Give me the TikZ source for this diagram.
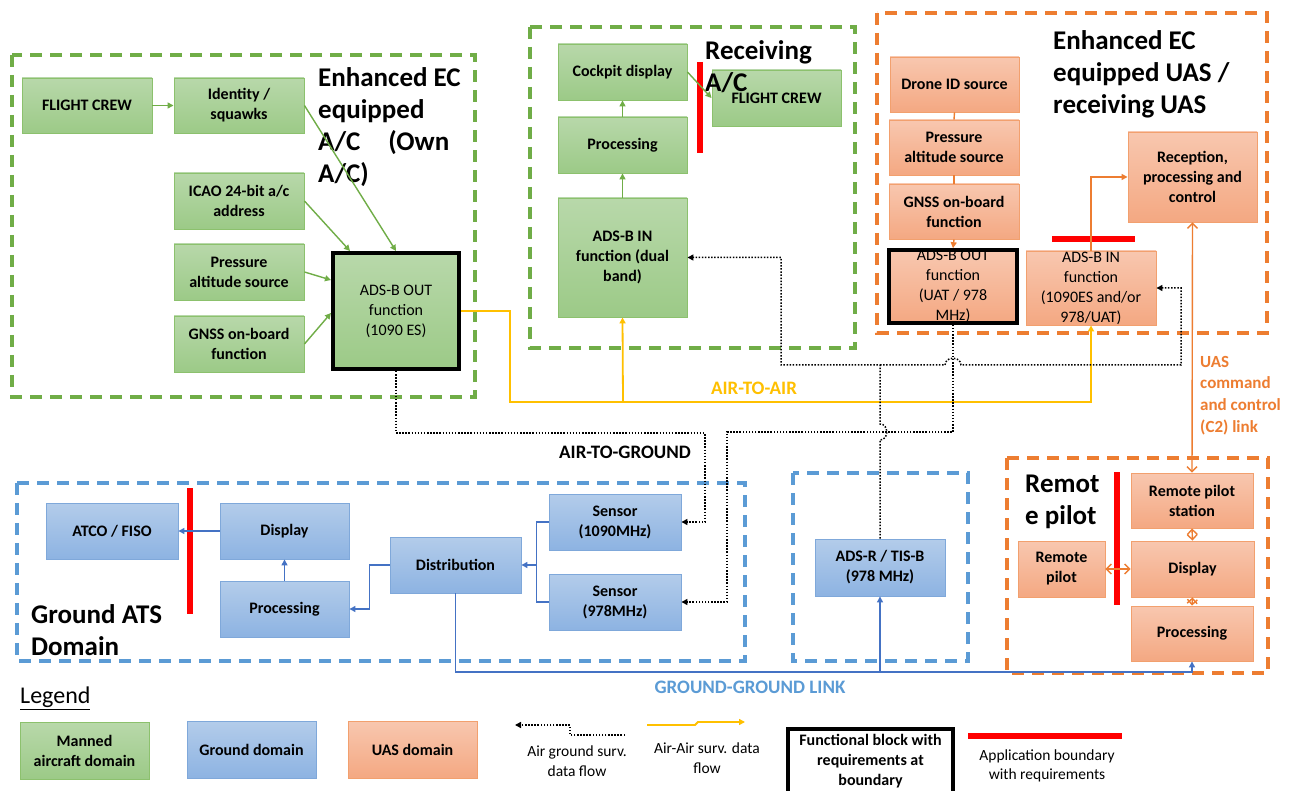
\documentclass[tikz,border=0pt]{standalone}
\usepackage{fontspec}
\setmainfont{Carlito}
\usetikzlibrary{arrows.meta}
\definecolor{gT}{HTML}{B8D8AA}
\definecolor{gB}{HTML}{9CCA87}
\definecolor{gL}{HTML}{8CC16D}
\definecolor{gD}{HTML}{70AD47}
\definecolor{bT}{HTML}{B3CCEA}
\definecolor{bB}{HTML}{8DB3E2}
\definecolor{bL}{HTML}{7FA8DA}
\definecolor{bD}{HTML}{5B9BD5}
\definecolor{bC}{HTML}{4472C4}
\definecolor{oT}{HTML}{F8C7AF}
\definecolor{oB}{HTML}{F4A882}
\definecolor{oL}{HTML}{F2A06E}
\definecolor{oD}{HTML}{ED7D31}
\definecolor{yC}{HTML}{FFC000}
\definecolor{rC}{HTML}{FF0000}
\begin{document}
\begin{tikzpicture}[x=1pt,y=-1pt,
  bx/.style={shape=rectangle, inner sep=0pt, align=center, line width=0.9pt,
    font=\fontsize{16}{20}\selectfont\bfseries},
  gnode/.style={bx, draw=gL, top color=gT, bottom color=gB},
  bnode/.style={bx, draw=bL, top color=bT, bottom color=bB},
  onode/.style={bx, draw=oL, top color=oT, bottom color=oB},
  wh/.style 2 args={minimum width=#1pt, minimum height=#2pt},
  fblock/.style={draw=black, line width=4pt},
  gdash/.style={draw=gD, line width=3.5pt, dash pattern=on 12pt off 8pt},
  bdash/.style={draw=bD, line width=3.5pt, dash pattern=on 12pt off 8pt},
  odash/.style={draw=oD, line width=3.5pt, dash pattern=on 12pt off 8pt},
  tip/.style={-{Triangle[length=6pt,width=6pt]}},
  gcon/.style={draw=gD, line width=1.4pt, tip},
  bcon/.style={draw=bC, line width=1.3pt, tip},
  ocon/.style={draw=oD, line width=1.4pt},
  barb2/.style={draw=oD, line width=1.4pt, {Straight Barb[length=5pt,width=10pt]}-{Straight Barb[length=5pt,width=10pt]}},
  ycon/.style={draw=yC, line width=1.8pt},
  dcon/.style={draw=black, line width=1.5pt, dash pattern=on 1.5pt off 1.6pt},
  redbar/.style={draw=rC, line width=6pt},
  title/.style={anchor=north west, inner sep=0pt, align=left,
    font=\fontsize{27}{32}\selectfont\bfseries},
  lbl/.style={inner sep=0pt, font=\fontsize{19}{23}\selectfont\bfseries},
  legtxt/.style={inner sep=0pt, align=center, font=\fontsize{15.5}{19.5}\selectfont},
]
\fill[white] (0,0) rectangle (1293,791);
\useasboundingbox (0,0) rectangle (1293,791);

% ---------- domain frames ----------
\draw[gdash] (12,55) rectangle (475,397);
\draw[gdash] (530,27) rectangle (855,348);
\draw[odash] (877,13) rectangle (1267,333);
\draw[bdash] (17,483) rectangle (745,661);
\draw[bdash] (793,473) rectangle (968,661);
\draw[odash] (1007,458) rectangle (1268,673);

% ---------- own A/C ----------
\node[gnode, wh={130}{55}] (fc1) at (87,105.5) {FLIGHT CREW};
\node[gnode, wh={130}{55}] (ident) at (239,105.5) {Identity /\\squawks};
\node[gnode, wh={130}{56}] (icao) at (239,201) {ICAO 24-bit a/c\\address};
\node[gnode, wh={130}{56}] (pres1) at (239,272) {Pressure\\altitude source};
\node[gnode, wh={130}{56}] (gnss1) at (239,344) {GNSS on-board\\function};
\node[gnode, fblock, wh={126}{116}, font=\fontsize{16}{20}\selectfont] (out1) at (396,311) {ADS-B OUT\\function\\(1090 ES)};
\node[title] (t1) at (318,67) {Enhanced EC\\equipped\\A/C\hspace{28pt}(Own\\A/C)};

% ---------- receiving A/C ----------
\node[gnode, wh={129}{56}] (cockpit) at (622.5,72) {Cockpit display};
\node[gnode, wh={129}{56}] (proc2) at (622.5,145) {Processing};
\node[gnode, wh={129}{119}] (in2) at (622.5,257.5) {ADS-B IN\\function (dual\\band)};
\node[gnode, wh={129}{56}] (fc2) at (776.5,98) {FLIGHT CREW};
\node[title] (t2) at (705,40) {Receiving\\A/C};

% ---------- UAS ----------
\node[onode, wh={129}{55}] (drone) at (954.5,84.5) {Drone ID source};
\node[onode, wh={130}{55}] (pres3) at (954,147.5) {Pressure\\altitude source};
\node[onode, wh={130}{55}] (gnss3) at (954,211.5) {GNSS on-board\\function};
\node[onode, fblock, wh={128}{67}, font=\fontsize{16}{20}\selectfont] (out3) at (953,286.5) {ADS-B OUT\\function\\(UAT / 978\\MHz)};
\node[onode, wh={130}{74}, font=\fontsize{16}{20}\selectfont] (in3) at (1091,288) {ADS-B IN\\function\\(1090ES and/or\\978/UAT)};
\node[onode, wh={129}{90}] (recep) at (1192.5,177) {Reception,\\processing and\\control};
\node[title] (t3) at (1053,30) {Enhanced EC\\equipped UAS /\\receiving UAS};

% ---------- ground ATS ----------
\node[bnode, wh={132}{56}] (atco) at (112,531) {ATCO / FISO};
\node[bnode, wh={129}{56}] (disp4) at (284.5,531) {Display};
\node[bnode, wh={129}{56}] (proc4) at (284.5,609) {Processing};
\node[bnode, wh={131}{56}] (dist) at (455.5,565) {Distribution};
\node[bnode, wh={132}{56}] (s1090) at (615,522) {Sensor\\(1090MHz)};
\node[bnode, wh={132}{56}] (s978) at (615,602) {Sensor\\(978MHz)};
\node[title] (t4) at (31,604) {Ground ATS\\Domain};

\node[bnode, wh={130}{57}] (adsr) at (880,567.5) {ADS-R / TIS-B\\(978 MHz)};

% ---------- remote pilot ----------
\node[onode, wh={122}{55}] (rps) at (1192,500.5) {Remote pilot\\station};
\node[onode, wh={87}{56}] (rp) at (1061.5,569) {Remote\\pilot};
\node[onode, wh={123}{56}] (disp5) at (1192.5,569) {Display};
\node[onode, wh={122}{55}] (proc5) at (1192,633.5) {Processing};
\node[title] (t5) at (1025,475) {Remot\\e pilot};

% ---------- application boundaries ----------
\draw[redbar] (700,62) -- (700,153);
\draw[redbar] (1052,239) -- (1135,239);
\draw[redbar] (190,488) -- (190,614);
\draw[redbar] (1117,472) -- (1117,605);

% ---------- green connectors ----------
\draw[gcon] (fc1.east) -- (ident.west);
\draw[gcon] (ident.east) -- (out1.north);
\draw[gcon] (icao.east) -- ([xshift=19pt]out1.north west);
\draw[gcon] (pres1.east) -- ([yshift=31pt]out1.west);
\draw[gcon] (gnss1.east) -- ([yshift=-2pt]out1.west);
\draw[gcon] (in2.north) -- (proc2.south);
\draw[gcon] (proc2.north) -- (cockpit.south);
\draw[gcon] (cockpit.east) -- (fc2.west);

% ---------- orange connectors ----------
\draw[ocon] (drone.south) -- (pres3.north);
\draw[ocon] (pres3.south) -- (gnss3.north);
\draw[ocon, tip] (gnss3.south) -- (out3.north);
\draw[ocon, tip] (in3.north) |- (recep.west);
\draw[barb2] (recep.south) -- (rps.north);
\draw[barb2] (rp.east) -- (disp5.west);
\draw[barb2] (disp5.north) -- (rps.south);
\draw[barb2] (disp5.south) -- (proc5.north);

% ---------- ground connectors ----------
\draw[bcon] (disp4.west) -- (atco.east);
\draw[bcon] (proc4.north) -- (disp4.south);
\draw[bcon] (dist.west) -- ++(-20,0) |- (proc4.east);
\draw[bcon, -] (s1090.west) -- ++(-12,0) |- (s978.west);
\draw[bcon] ([xshift=-12pt]s1090.west) |- (dist.east);

% ---------- air-to-air (yellow) ----------
\coordinate (ya) at (510,402);
\coordinate (yb) at (623,402);
\draw[ycon, tip] (out1.east) -| (ya) -| (in3.south);
\draw[ycon, tip] (yb) -- (in2.south);

% ---------- air-to-ground (dotted) ----------
\coordinate (ag1) at (705,433);
\coordinate (ag2) at (727,432);
\draw[dcon, tip] (out1.south) |- (ag1) |- (s1090.east);
\draw[dcon, tip] (out3.south) |- (ag2) |- (s978.east);
\coordinate (tj) at (880,365);
\coordinate (tl) at (781,365);
\coordinate (tr) at (1181,365);
\draw[dcon, tip] (adsr.north) -- (880,440) .. controls (889,440) and (889,424) .. (880,424) -- (tj) -- (tl) |- (in2.east);
\draw[dcon, tip] (tj) -- (945,365) .. controls (945,356) and (961,356) .. (961,365) -- (tr) |- (in3.east);

% ---------- ground-ground link ----------
\coordinate (gla) at (455.5,672);
\draw[bcon] (dist.south) -- (gla) -| (proc5.south);
\draw[bcon] (adsr.south |- gla) -- (adsr.south);

% ---------- link labels ----------
\node[lbl, text=yC] (lAA) at (754,388) {AIR-TO-AIR};
\node[lbl] (lAG) at (625,452) {AIR-TO-GROUND};
\node[lbl, text=bD] (lGG) at (750,687) {GROUND-GROUND LINK};
\node[anchor=north west, inner sep=0pt, align=left, text=oD,
  font=\fontsize{17}{21.6}\selectfont\bfseries] (lC2) at (1200,356) {UAS\\command\\and control\\(C2) link};

% ---------- legend ----------
\node[anchor=west, inner sep=0pt, font=\fontsize{24}{28}\selectfont] (leg) at (20,698) {\underline{Legend}};
\node[gnode, wh={129}{57}] (lg1) at (84.5,750.5) {Manned\\aircraft domain};
\node[bnode, wh={129}{57}] (lg2) at (251.5,749.5) {Ground domain};
\node[onode, wh={129}{57}] (lg3) at (412.5,749.5) {UAS domain};
\coordinate (lda) at (625,735);
\coordinate (ldb) at (515,725);
\draw[dcon, tip] (lda) -- (570,735) -- (570,725) -- (ldb);
\node[legtxt] (lt1) at (577,761) {Air ground surv.\\data flow};
\coordinate (lya) at (647,725);
\coordinate (lyb) at (745,722);
\draw[ycon, tip] (lya) -- (695,725) -- (698,722) -- (lyb);
\node[legtxt] (lt2) at (707,758) {Air-Air surv. data\\flow};
\node[bx, fblock, fill=white, wh={165}{64}] (lg4) at (870.5,761) {Functional block with\\requirements at\\boundary};
\coordinate (lra) at (968,736);
\coordinate (lrb) at (1122,736);
\draw[redbar] (lra) -- (lrb);
\node[legtxt] (lt3) at (1047,766) {Application boundary\\with requirements};
\end{tikzpicture}
\end{document}
